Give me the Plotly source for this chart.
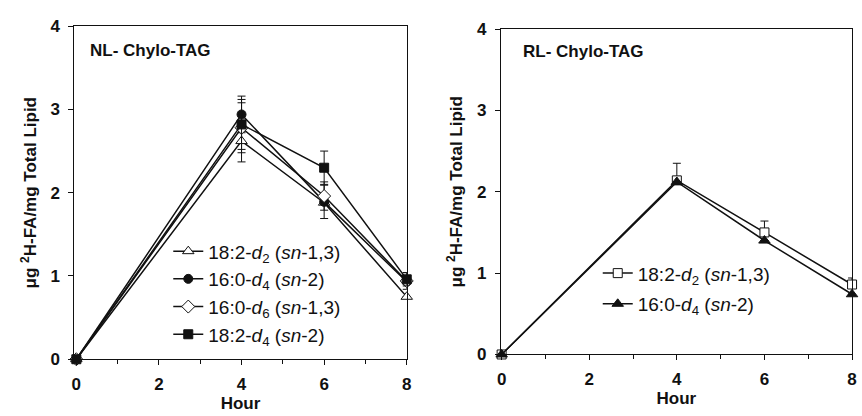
import plotly.graph_objects as go

hours = [0, 4, 6, 8]

# Left panel: NL- Chylo-TAG
nl_182d2 = [0, 2.62, 1.88, 0.75]
nl_182d2_err = [0, 0.25, 0, 0]
nl_160d4 = [0, 2.94, 1.89, 0.93]
nl_160d4_err = [0, 0.22, 0.20, 0]
nl_160d6 = [0, 2.78, 1.96, 0.94]
nl_160d6_err = [0, 0.30, 0.17, 0.10]
nl_182d4 = [0, 2.82, 2.30, 0.96]
nl_182d4_err = [0, 0.30, 0.20, 0.08]

# Right panel: RL- Chylo-TAG
rl_182d2 = [0, 2.14, 1.50, 0.86]
rl_182d2_err = [0, 0.21, 0.14, 0.08]
rl_160d4 = [0, 2.12, 1.40, 0.74]
rl_160d4_err = [0, 0, 0, 0]

legend_nl = ["18:2-<i>d</i><sub>2</sub> (<i>sn</i>-1,3)",
             "16:0-<i>d</i><sub>4</sub> (<i>sn</i>-2)",
             "16:0-<i>d</i><sub>6</sub> (<i>sn</i>-1,3)",
             "18:2-<i>d</i><sub>4</sub> (<i>sn</i>-2)"]
legend_rl = ["18:2-<i>d</i><sub>2</sub> (<i>sn</i>-1,3)",
             "16:0-<i>d</i><sub>4</sub> (<i>sn</i>-2)"]

FONT = "Liberation Sans, Arial, sans-serif"
INK = "#111111"

fig = go.Figure()

def add(y, err, name, symbol, fill, xa, ya, leg, group, size=9, minus=True):
    fig.add_trace(go.Scatter(
        x=hours, y=y, name=name, mode="lines+markers",
        xaxis=xa, yaxis=ya, legend=leg, legendgroup=group, cliponaxis=False,
        line=dict(color=INK, width=1.5),
        marker=dict(symbol=symbol, size=size, color=fill,
                    line=dict(color=INK, width=1)),
        error_y=dict(type="data", array=err,
                     arrayminus=err if minus else [0]*len(err),
                     symmetric=False, color=INK, thickness=1, width=4),
    ))

add(nl_182d2, nl_182d2_err, legend_nl[0], "triangle-up", "white", "x", "y", "legend", "a", 10)
add(nl_160d4, nl_160d4_err, legend_nl[1], "circle", INK, "x", "y", "legend", "b", 9)
add(nl_160d6, nl_160d6_err, legend_nl[2], "diamond", "white", "x", "y", "legend", "c", 10)
add(nl_182d4, nl_182d4_err, legend_nl[3], "square", INK, "x", "y", "legend", "d", 9)

add(rl_182d2, rl_182d2_err, legend_rl[0], "square", "white", "x2", "y2", "legend2", "e", 9, minus=False)
add(rl_160d4, rl_160d4_err, legend_rl[1], "triangle-up", INK, "x2", "y2", "legend2", "f", 10, minus=False)

W, H = 862, 416

def xaxis(domain, rng):
    return dict(domain=domain, range=rng, tickvals=[0, 2, 4, 6, 8],
                ticks="outside", ticklen=5, tickwidth=1, tickcolor=INK,
                ticklabelstandoff=4,
                minor=dict(tickvals=[1, 3, 5, 7], ticks="outside", ticklen=4,
                           tickwidth=1, tickcolor=INK),
                showline=True, linecolor=INK, linewidth=1, mirror=True,
                showgrid=False, zeroline=False,
                tickfont=dict(family=FONT, size=17, color=INK, weight="bold"),
                title=dict(text="<b>Hour</b>", standoff=3,
                           font=dict(family=FONT, size=17, color=INK)))

def yaxis(domain, anchor):
    return dict(domain=domain, range=[0, 4], tickvals=[0, 1, 2, 3, 4],
                anchor=anchor,
                ticks="outside", ticklen=5, tickwidth=1, tickcolor=INK,
                ticklabelstandoff=5,
                showline=True, linecolor=INK, linewidth=1, mirror=True,
                showgrid=False, zeroline=False,
                tickfont=dict(family=FONT, size=17, color=INK, weight="bold"),
                title=dict(text="<b>\u03bcg <sup>2</sup>H-FA/mg Total Lipid</b>", standoff=9,
                           font=dict(family=FONT, size=17, color=INK)))

fig.update_layout(
    width=W, height=H, margin=dict(l=0, r=0, t=0, b=0),
    paper_bgcolor="white", plot_bgcolor="white",
    font=dict(family=FONT, color=INK),
    xaxis=dict(xaxis([71/W, 407/W], [-0.05, 8]), anchor="y"),
    yaxis=yaxis([1-367/H, 1-18/H], "x"),
    xaxis2=dict(xaxis([502/W, 857/W], [-0.02, 8]), anchor="y2"),
    yaxis2=yaxis([1-362/H, 1-21/H], "x2"),
    legend=dict(x=166/W, y=1-234/H, xanchor="left", yanchor="top",
                bgcolor="rgba(0,0,0,0)", font=dict(family=FONT, size=19, color=INK),
                tracegroupgap=0, itemwidth=30),
    legend2=dict(x=600/W, y=1-257/H, xanchor="left", yanchor="top",
                 bgcolor="rgba(0,0,0,0)", font=dict(family=FONT, size=19, color=INK),
                 tracegroupgap=3, itemwidth=30),
    showlegend=True,
    annotations=[
        dict(text="<b>NL- Chylo-TAG</b>", x=85/W, y=1-43/H, xref="paper", yref="paper",
             xanchor="left", yanchor="middle", showarrow=False,
             font=dict(family=FONT, size=17, color=INK)),
        dict(text="<b>RL- Chylo-TAG</b>", x=522/W, y=1-45/H, xref="paper", yref="paper",
             xanchor="left", yanchor="middle", showarrow=False,
             font=dict(family=FONT, size=17, color=INK)),
    ],
)

fig.write_html("out.html")
